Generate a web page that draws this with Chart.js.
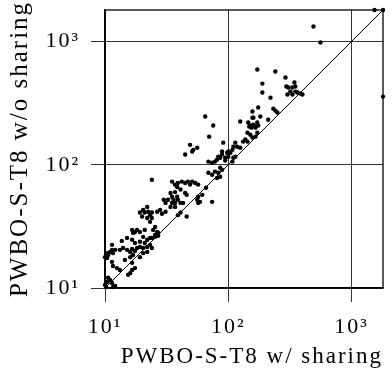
<!DOCTYPE html>
<html><head><meta charset="utf-8">
<script src="https://cdn.jsdelivr.net/npm/chart.js@4/dist/chart.umd.min.js"></script>
<style>html,body{margin:0;padding:0;background:#fff}#wrap{width:392px;height:376px}</style>
</head><body><div id="wrap"><canvas id="c" width="392" height="376"></canvas></div>
<script>
// Runtime with sharing (x) and without sharing (y)
const withSharing = [
1800,1535,491,560,1800,172,241,291,189,344,296,307,350,331,319,350,302,331,364,385,400,189,220,175,157,232,241,250,125,157,
182,160,211,145,151,160,166,172,148,154,166,175,143,151,166,157,172,137.5,132,143,114,110,118,108,125,100,104,98,89,89,
83,86,81,94.5,100,108,110,114,69,74,65,75.5,70,91,49,52,56,44.7,51,78,94.5,69,74,78,83,86,89,81,86,66,
74,24,35,37,38.5,39,42,44.7,47,49,51,54,57,34,35,32.5,36,37,35,38.5,39,30,31,34,37,41,43,37,41,44.7,
46,57,61.5,56,59,57,26.5,28,31,24,41,39,46,22,20.4,19.2,21,22.4,20,22,23.2,24,23.2,29,16.6,17.5,18.2,19.2,
21,16.9,20.4,24.6,25.5,26.5,27,25.5,24,15.1,16.6,13.7,17.5,19.2,22,23.2,25.5,27,10.4,10.6,11,11.4,11.6,10,10.4,13.2,14,15.1,
16,16.6,17.5,18.2,19.2,20.4,22,23.2,21,14.5,16,16.9,19.2,20.4,22,24,11.4,12.1,10,10.4,10.6,11,11.4,11.6,12.1,10.2,
11.4,11.6,12.5,13.2,15.4,16,16.6,17.5,16.6
];
const withoutSharing = [
1800,1800,1322,981,357,592,570,510,455,464,431,423,431,423,392,392,371,371,385,378,371,385,350,291,270,285,275,265,224,241,
246,241,232,220,208,211,204,220,204,200,200,208,182,175,169,166,182,160,154,154,151,140,140,132,137.5,128,125,125,128,121,
116,114,110,114,116,106,114,116,106,104,246,208,169,151,145,132,137.5,121,128,106,108,86,83,88,86,94.5,91,78,80,65,
50,75.5,73,69,66,71,73,71,73,69,73,71,69,59,55,52,52,49,49,55,52,52,49,45.5,45.5,49,49,60,63,59,
57,55,57,52,50,49,41.5,43,41.5,41,41,39,38,45.5,43,41,41,41.5,38,37,39,37,34.4,40,29.6,28.5,29.6,28.5,
29.6,28,26,29.6,31.3,28.5,28,27,25.5,25.5,24.6,24.1,23.2,23.7,24.6,25.5,26,26.5,19.2,18.5,19.6,20.4,19.2,17.8,17.5,20.4,21.1,20.4,
19.6,20.7,20,21.1,21.5,21.1,21.5,22.4,23.2,16.9,17.8,18.5,17.8,19.2,19.6,21.1,22.4,20.4,10.6,11.2,12.1,11.6,11,10.2,10.4,10.2,
16.3,15.1,14.5,14,12.8,13.2,14,14.5,16
];
const axisMin = 10, axisMax = 1800;
const tickValues = [10, 100, 1000];
const tickLabels = ['10\u00B9', '10\u00B2', '10\u00B3'];
const xTitle = 'PWBO-S-T8 w/ sharing';
const yTitle = 'PWBO-S-T8 w/o sharing';
const diagonal = [axisMin, axisMax];

const points = withSharing.map((x, i) => ({x: x, y: withoutSharing[i]}));
const diagPts = diagonal.map(v => ({x: v, y: v}));

const FONT = 'Liberation Serif';

const frame = {
  id: 'frame',
  beforeDraw(chart) { chart.ctx.letterSpacing = '2px'; },
  afterDatasetsDraw(chart) {
    const a = chart.chartArea, c = chart.ctx;
    c.save();
    c.strokeStyle = '#000';
    c.lineWidth = 1.3;
    c.strokeRect(a.left, a.top, a.right - a.left, a.bottom - a.top);
    c.restore();
  }
};

function axis(title, isY) {
  return {
    type: 'logarithmic',
    min: axisMin, max: axisMax,
    afterBuildTicks(s) { s.ticks = tickValues.map(v => ({value: v})); },
    afterFit(s) {
      if (isY) { s.width = 105; s.paddingTop = 0; s.paddingBottom = 0; }
      else { s.height = 88; }
    },
    grid: { color: '#333', lineWidth: 1, tickLength: 14, drawTicks: true },
    border: { display: true, color: '#000', width: 1.3 },
    ticks: {
      autoSkip: false, maxRotation: 0, minRotation: 0,
      color: '#000', padding: isY ? 11 : 12,
      font: { family: FONT, size: 22 },
      callback(v) { return tickLabels[tickValues.indexOf(v)] ?? ''; }
    },
    title: {
      display: true, text: title, color: '#000',
      font: { family: FONT, size: isY ? 25 : 23 },
      align: isY ? 'center' : 'end',
      padding: isY ? {top: 5, bottom: 0} : {top: 0, bottom: 5}
    }
  };
}

new Chart(document.getElementById('c'), {
  type: 'scatter',
  data: {
    datasets: [
      { type: 'line', data: diagPts, borderColor: '#000', borderWidth: 1, pointRadius: 0, tension: 0, fill: false },
      { data: points, backgroundColor: '#000', borderWidth: 0, pointRadius: 2.2, clip: 4 }
    ]
  },
  options: {
    responsive: false, animation: false, devicePixelRatio: 1,
    layout: { padding: { top: 10, right: 9, left: 0, bottom: 0 } },
    plugins: { legend: { display: false }, tooltip: { enabled: false } },
    scales: { x: axis(xTitle, false), y: axis(yTitle, true) }
  },
  plugins: [frame]
});
</script>
</body></html>
